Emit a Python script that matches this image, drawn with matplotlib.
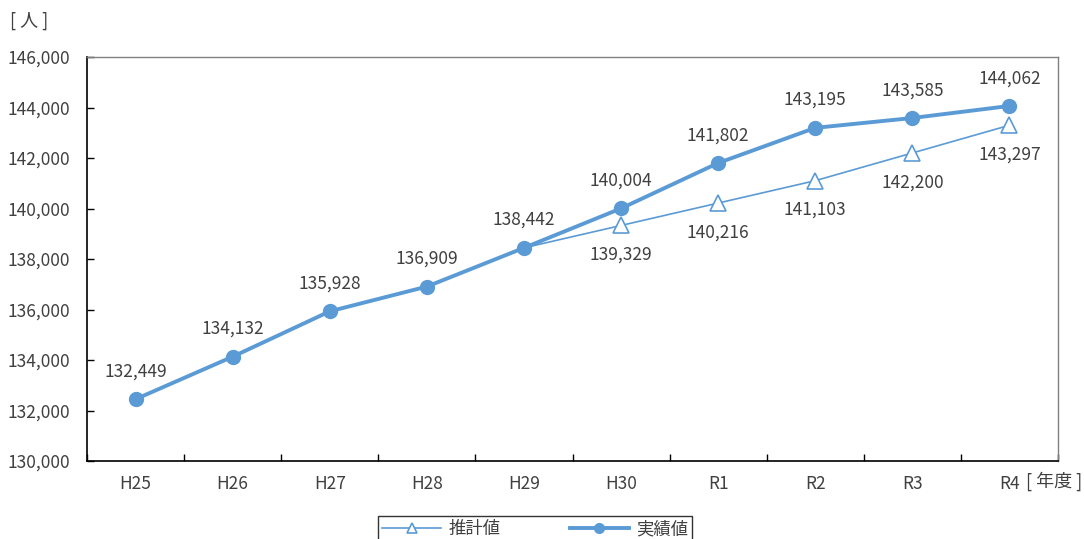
import matplotlib.pyplot as plt
import numpy as np

plt.rcParams['font.family'] = ['Noto Sans CJK JP', 'DejaVu Sans']

# data
years = ['H25', 'H26', 'H27', 'H28', 'H29', 'H30', 'R1', 'R2', 'R3', 'R4']
actual = [132449, 134132, 135928, 136909, 138442, 140004, 141802, 143195, 143585, 144062]
est_years = ['H29', 'H30', 'R1', 'R2', 'R3', 'R4']
estimate = [138442, 139329, 140216, 141103, 142200, 143297]
yticks = np.arange(130000, 146001, 2000)

line_color = '#5B9BD5'
text_color = '#404040'

fig = plt.figure(figsize=(10.84, 5.39), dpi=100)
ax = fig.add_axes([0.0803, 0.1447, 0.8957, 0.7495])

x = np.arange(len(years))
xe = np.array([years.index(y) for y in est_years])

# estimate line (no marker at the shared starting point)
ax.plot(xe, estimate, color=line_color, lw=1.2, marker='^', markersize=11,
        markerfacecolor='white', markeredgecolor=line_color, markeredgewidth=1.2,
        markevery=list(range(1, len(xe))), label='推計値', zorder=2)
ax.plot(x, actual, color=line_color, lw=2.8, marker='o', markersize=10,
        label='実績値', zorder=3)

# labels
for xi, v in zip(x, actual):
    ax.annotate(f'{v:,}', (xi, v), xytext=(0, 20), textcoords='offset points',
                ha='center', va='center', fontsize=12.5, color=text_color)
for xi, v in zip(xe[1:], estimate[1:]):
    ax.annotate(f'{v:,}', (xi, v), xytext=(0, -21), textcoords='offset points',
                ha='center', va='center', fontsize=12.5, color=text_color)

ax.set_xlim(-0.5, len(years) - 0.5)
ax.set_ylim(130000, 146000)
ax.set_yticks(yticks)
ax.set_yticklabels([f'{v:,}' for v in yticks])
ax.set_xticks(x)
ax.set_xticklabels(years)
ax.set_xticks(np.arange(-0.5, len(years), 1), minor=True)
ax.tick_params(axis='x', which='major', length=0, pad=10, labelsize=12.5, labelcolor=text_color)
ax.tick_params(axis='x', which='minor', direction='in', length=5, width=1, color='#000000')
ax.tick_params(axis='y', direction='in', length=5, width=1, pad=12, labelsize=12.5, labelcolor=text_color)

for s in ['left', 'bottom']:
    ax.spines[s].set_color('#000000')
    ax.spines[s].set_linewidth(1.2)
for s in ['top', 'right']:
    ax.spines[s].set_color('#808080')
    ax.spines[s].set_linewidth(1.0)

fig.text(0.009, 0.962, '[ 人 ]', fontsize=13, color=text_color, ha='left', va='center')
fig.text(0.998, 0.108, '[ 年度 ]', fontsize=13, color=text_color, ha='right', va='center')

leg = fig.legend(loc='upper center', bbox_to_anchor=(0.4935, 0.043), ncol=2,
                 fontsize=12.5, frameon=True, fancybox=False, edgecolor='#000000',
                 handlelength=3.4, columnspacing=4.0, borderpad=0.25,
                 borderaxespad=0, markerscale=0.7, handletextpad=0.4)
leg.get_frame().set_linewidth(1.0)
for t in leg.get_texts():
    t.set_color(text_color)

fig.savefig('out.png', dpi=100)
